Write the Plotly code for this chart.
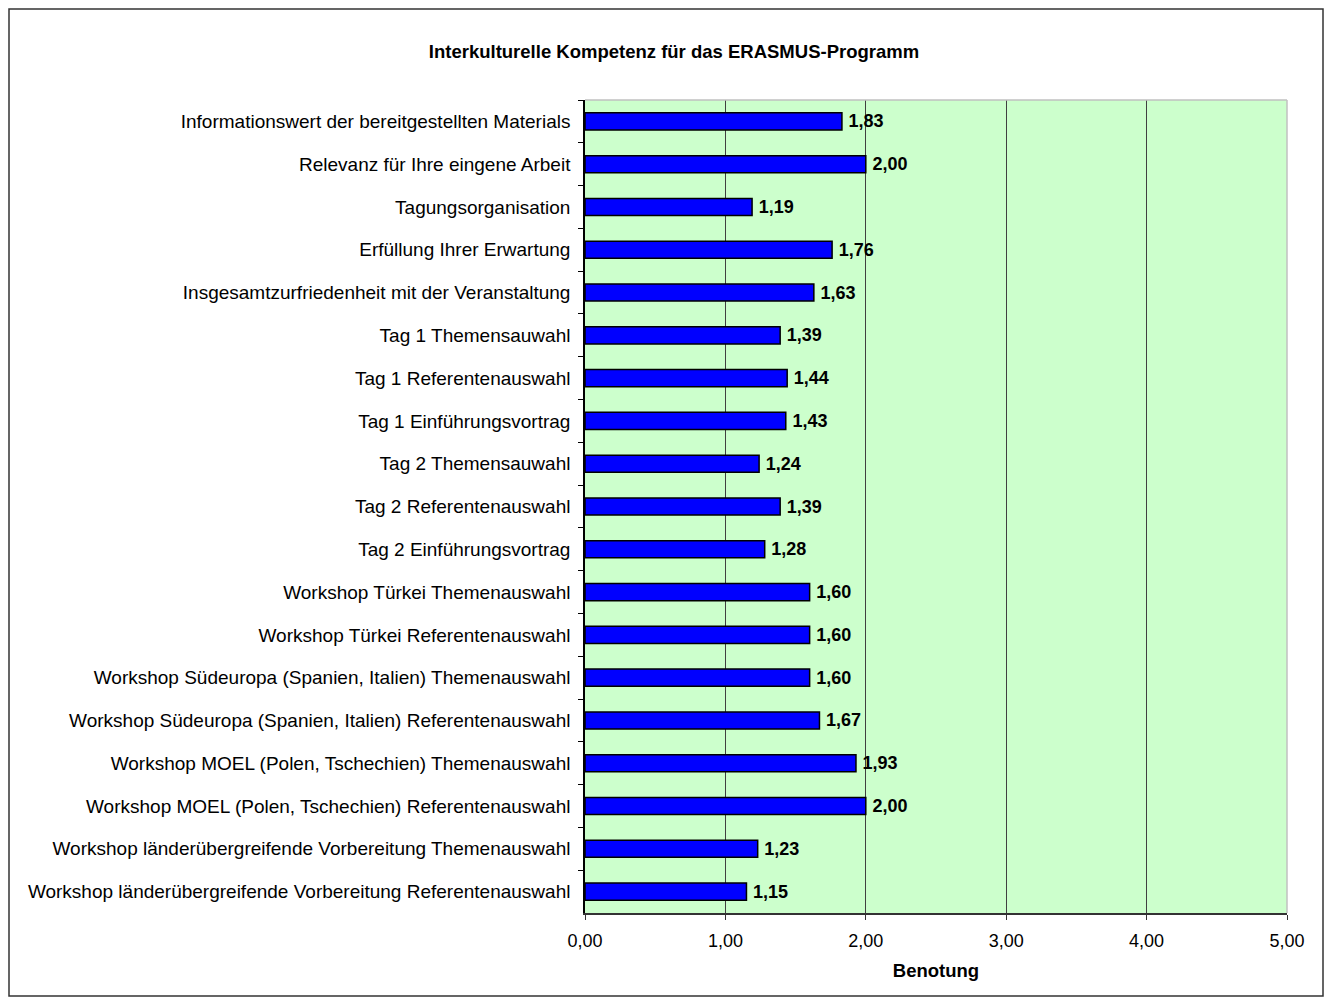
import plotly.graph_objects as go

categories = [
    "Informationswert der bereitgestellten Materials",
    "Relevanz für Ihre eingene Arbeit",
    "Tagungsorganisation",
    "Erfüllung Ihrer Erwartung",
    "Insgesamtzurfriedenheit mit der Veranstaltung",
    "Tag 1 Themensauwahl",
    "Tag 1 Referentenauswahl",
    "Tag 1 Einführungsvortrag",
    "Tag 2 Themensauwahl",
    "Tag 2 Referentenauswahl",
    "Tag 2 Einführungsvortrag",
    "Workshop Türkei Themenauswahl",
    "Workshop Türkei Referentenauswahl",
    "Workshop Südeuropa (Spanien, Italien) Themenauswahl",
    "Workshop Südeuropa (Spanien, Italien) Referentenauswahl",
    "Workshop MOEL (Polen, Tschechien) Themenauswahl",
    "Workshop MOEL (Polen, Tschechien) Referentenauswahl",
    "Workshop länderübergreifende Vorbereitung Themenauswahl",
    "Workshop länderübergreifende Vorbereitung Referentenauswahl",
]
values = [1.83, 2.00, 1.19, 1.76, 1.63, 1.39, 1.44, 1.43, 1.24, 1.39, 1.28,
          1.60, 1.60, 1.60, 1.67, 1.93, 2.00, 1.23, 1.15]
x_ticks = [0, 1, 2, 3, 4, 5]

FONT = "Liberation Sans, Arial, sans-serif"

fig = go.Figure(go.Bar(
    y=categories, x=values, orientation="h",
    marker=dict(color="#0000ff", line=dict(color="#000000", width=1.5)),
    width=0.4,
    text=values, texttemplate="<b>\u2009%{x:.2f}</b>", textposition="outside",
    textfont=dict(family=FONT, size=18, color="#000000"),
    constraintext="none",
    cliponaxis=False,
))

# page body has an 8px default margin; figure sized to fit the window
OFF = 8
W, H = 1332 - OFF, 1003 - OFF
L = 585 - OFF
T = 100 - OFF
R = W - (1287 - OFF)
B = H - (913 - OFF)
pw = W - L - R
ph = H - T - B

fig.update_layout(
    width=W, height=H,
    margin=dict(l=L, r=R, t=T, b=B),
    paper_bgcolor="white",
    plot_bgcolor="#ccffcc",
    separators=",.",
    showlegend=False,
    font=dict(family=FONT, size=18, color="#000000"),
    title=dict(text="<b>Interkulturelle Kompetenz für das ERASMUS-Programm</b>",
               font=dict(family=FONT, size=18.5, color="#000000"),
               xref="container", x=(674 - OFF) / W, xanchor="center",
               yref="container", y=1 - (52 - OFF) / H, yanchor="middle"),
    xaxis=dict(range=[0, 5], tickvals=x_ticks, tickformat=".2f",
               showgrid=True, gridcolor="#404040", gridwidth=1,
               zeroline=False, showline=True, linecolor="#333333", linewidth=1.5,
               ticks="outside", ticklen=5, tickcolor="#333333",
               tickfont=dict(family=FONT, size=18, color="#000000"),
               ticklabelstandoff=6,
               title=dict(text="<b>Benotung</b>", font=dict(family=FONT, size=18.5, color="#000000"),
                          standoff=14),
               fixedrange=True),
    yaxis=dict(autorange="reversed", type="category",
               showline=True, linecolor="#000000", linewidth=1.5,
               ticks="outside", ticklen=5, tickcolor="#000000", tickson="boundaries",
               showgrid=False,
               tickfont=dict(family=FONT, size=19, color="#000000"),
               ticklabelstandoff=9,
               fixedrange=True),
    bargap=0.6,
)

# plot area top/right border (light gray)
fig.add_shape(type="line", xref="paper", yref="paper", x0=0, x1=1, y0=1, y1=1,
              line=dict(color="#c0c0c0", width=1.5))
fig.add_shape(type="line", xref="paper", yref="paper", x0=1, x1=1, y0=0, y1=1,
              line=dict(color="#c0c0c0", width=1.5))

# outer chart border (in figure pixels)
bx0, bx1, by_top, by_bot = 1, 1323 - OFF, 1, 996 - OFF
fig.add_shape(type="rect", xref="paper", yref="paper",
              x0=(bx0 - L) / pw, x1=(bx1 - L) / pw,
              y0=(H - B - by_bot) / ph, y1=(H - B - by_top) / ph,
              line=dict(color="#333333", width=1.5), layer="below")

fig.write_html("out.html")
